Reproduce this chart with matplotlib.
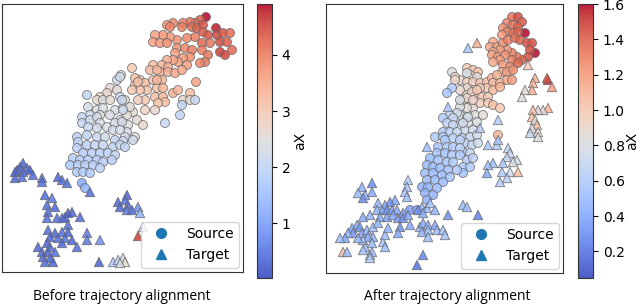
import numpy as np
import matplotlib.pyplot as plt
from matplotlib.lines import Line2D

# points: (x, y, aX), y grows downwards
left_source = [
    (206, 17, 4.9), (216, 28, 4.8), (200, 20, 4.3), (195, 23, 4.2), (190, 22, 4.1), (183, 23, 4.0),
    (182, 27, 4.0), (173, 23, 3.9), (167, 25, 3.8), (170, 27, 3.9), (192, 27, 4.2), (197, 28, 4.3),
    (203, 25, 4.4), (203, 32, 4.3), (208, 35, 4.4), (217, 35, 4.5), (223, 33, 4.4), (230, 33, 4.2),
    (220, 42, 4.5), (227, 42, 4.3), (232, 50, 4.2), (220, 52, 4.6), (225, 55, 4.5), (210, 43, 4.1),
    (202, 43, 4.2), (195, 37, 4.0), (187, 38, 3.9), (177, 40, 3.8), (170, 37, 3.7), (163, 35, 3.7),
    (155, 35, 3.6), (153, 42, 3.6), (160, 43, 3.7), (167, 43, 3.8), (177, 48, 3.8), (175, 53, 3.6),
    (185, 48, 3.9), (192, 50, 4.0), (202, 50, 4.0), (208, 55, 4.1), (205, 62, 4.0), (200, 63, 3.9),
    (190, 57, 3.8), (183, 58, 3.7), (178, 62, 3.6), (187, 65, 3.6), (173, 60, 3.5),
    (167, 60, 3.4), (162, 65, 3.3), (168, 67, 3.4), (153, 65, 3.2), (150, 70, 3.2), (160, 72, 3.3),
    (168, 72, 3.4), (175, 73, 3.5), (182, 70, 3.5), (132, 68, 3.0), (140, 80, 3.1), (135, 85, 3.1),
    (145, 83, 3.2), (153, 80, 3.2), (162, 80, 3.3), (157, 88, 3.2), (163, 88, 3.3), (147, 90, 3.1),
    (140, 90, 3.1), (132, 90, 3.0), (155, 97, 3.2), (163, 97, 3.3), (173, 93, 3.4), (178, 90, 3.3),
    (190, 93, 3.2), (196, 82, 3.6), (165, 102, 3.2), (158, 103, 3.1), (145, 100, 3.0), (138, 100, 2.9),
    (183, 100, 2.7), (190, 100, 2.6), (195, 100, 2.1), (182, 105, 2.0), (180, 115, 2.0), (165, 123, 2.1),
    (155, 110, 2.7), (145, 110, 2.8), (133, 112, 2.6), (127, 115, 2.5), (137, 120, 2.6), (143, 125, 2.7),
    (128, 125, 2.4), (120, 120, 2.3), (127, 132, 2.4), (135, 137, 2.5),
    (135, 78, 3.1), (138, 82, 3.1), (157, 80, 3.3), (157, 70, 3.3), (121, 75, 2.5), (117, 80, 2.2),
    (110, 88, 2.6), (117, 90, 2.6), (107, 93, 2.7), (100, 97, 2.8), (97, 100, 2.6), (103, 100, 2.5),
    (87, 95, 2.0), (88, 107, 2.3), (97, 110, 2.4), (103, 108, 2.4), (110, 100, 2.6), (120, 97, 2.1),
    (125, 100, 2.6), (115, 110, 2.4), (123, 108, 2.3), (130, 107, 2.5), (110, 115, 2.4), (100, 115, 2.5),
    (90, 115, 2.2), (82, 117, 2.0), (82, 123, 2.1), (90, 120, 2.2), (97, 117, 2.3), (100, 123, 2.3),
    (107, 127, 2.4), (115, 123, 2.3), (122, 122, 2.3), (113, 130, 2.2), (120, 130, 2.3), (97, 128, 2.2),
    (88, 127, 2.1), (77, 137, 1.9), (87, 135, 2.0), (97, 137, 2.1), (105, 137, 2.2), (125, 137, 2.3),
    (120, 77, 2.2), (122, 100, 2.1), (123, 110, 2.2),
    (115, 140, 2.0), (123, 141, 2.1), (133, 140, 2.2), (78, 142, 1.9), (77, 148, 1.9), (87, 145, 1.9),
    (95, 145, 2.0), (103, 145, 2.0), (113, 147, 2.0), (120, 145, 2.1), (125, 147, 2.0), (83, 153, 1.8),
    (92, 153, 1.9), (100, 153, 1.9), (108, 153, 1.9), (115, 155, 2.0), (73, 158, 1.8), (80, 160, 1.8),
    (88, 160, 1.8), (97, 160, 1.9), (103, 162, 1.9), (112, 160, 1.9), (70, 165, 1.7), (78, 165, 1.8),
    (85, 165, 1.8), (93, 165, 1.8), (100, 168, 1.9), (77, 172, 1.7), (83, 172, 1.8), (90, 173, 1.7),
    (82, 183, 1.2), (85, 188, 1.3),
]

left_target = [
    (23, 163, 0.3), (20, 167, 0.3), (27, 168, 0.4), (17, 170, 0.3), (15, 172, 0.3), (23, 172, 0.4),
    (30, 170, 0.3), (33, 175, 0.4), (22, 177, 0.4), (15, 178, 0.3), (42, 178, 0.4), (42, 182, 0.4),
    (58, 177, 0.3), (62, 180, 0.4), (67, 183, 0.4), (90, 192, 0.4),
    (45, 195, 0.4), (52, 198, 0.5), (47, 205, 0.4), (55, 207, 0.3), (48, 212, 0.4), (72, 212, 0.3),
    (68, 213, 0.2), (65, 217, 0.3), (62, 218, 0.4), (57, 218, 0.4), (80, 217, 0.4), (47, 218, 0.4),
    (68, 225, 0.4), (48, 230, 0.4), (55, 233, 0.3), (62, 232, 0.4), (68, 232, 0.3), (50, 237, 0.3),
    (58, 238, 0.4), (65, 238, 0.4), (72, 240, 0.3), (62, 243, 0.3), (47, 243, 0.3), (38, 247, 0.3),
    (50, 247, 0.4), (77, 247, 0.4), (87, 233, 0.5), (87, 240, 0.5), (100, 240, 0.8), (42, 252, 0.4),
    (48, 252, 0.3), (55, 252, 0.4), (43, 257, 0.3), (50, 258, 0.3), (45, 262, 0.4), (53, 262, 0.3),
    (118, 202, 0.3), (127, 195, 0.3), (125, 200, 0.4), (120, 207, 0.3), (128, 205, 0.4), (127, 210, 0.5),
    (132, 210, 0.4), (138, 207, 0.8), (140, 213, 1.3),
    (99, 262, 0.3), (113, 262, 1.7), (118, 260, 2.0), (123, 258, 2.4), (125, 262, 2.6), (120, 263, 2.3),
    (138, 236, 4.6), (143, 227, 2.0),
]

right_source = [
    (512, 17, 1.35), (518, 17, 1.45), (522, 22, 1.42), (507, 23, 1.3), (513, 25, 1.35), (518, 27, 1.4),
    (525, 33, 1.6), (503, 28, 1.25), (507, 32, 1.3), (513, 33, 1.35), (518, 32, 1.4), (502, 35, 1.2),
    (493, 42, 1.15), (490, 47, 1.15), (497, 47, 1.2), (503, 43, 1.25), (508, 40, 1.3), (515, 38, 1.35),
    (520, 40, 1.4), (527, 43, 1.45), (532, 43, 1.45), (535, 53, 1.6), (530, 50, 1.45), (528, 57, 1.45),
    (522, 60, 1.4), (517, 57, 1.35), (512, 53, 1.3), (507, 50, 1.25), (500, 50, 1.2), (493, 52, 1.15),
    (492, 55, 1.15), (498, 57, 1.2), (505, 55, 1.25), (512, 60, 1.3), (518, 63, 1.4), (500, 60, 1.2),
    (493, 62, 1.15), (503, 65, 1.2), (510, 67, 1.25), (502, 72, 1.15), (507, 72, 1.2), (513, 70, 1.25),
    (467, 68, 1.0), (473, 70, 1.0), (478, 72, 1.05), (470, 75, 0.9), (477, 77, 0.85), (460, 80, 0.9),
    (467, 82, 0.95), (473, 82, 0.95), (480, 83, 1.0), (487, 82, 1.05), (492, 78, 1.1), (497, 75, 1.1),
    (493, 83, 1.05), (500, 83, 1.1), (507, 80, 1.15), (512, 80, 1.2), (487, 88, 1.0), (493, 90, 1.05),
    (500, 87, 1.1), (480, 88, 0.95), (473, 90, 0.95), (467, 88, 0.9), (460, 90, 0.9), (467, 95, 0.9),
    (475, 97, 0.95), (482, 97, 1.0), (488, 97, 1.0), (463, 100, 0.85), (472, 102, 0.9), (480, 103, 0.95),
    (488, 103, 1.0), (493, 105, 1.05), (500, 108, 1.0), (473, 108, 0.85), (467, 108, 0.85), (460, 107, 0.8),
    (460, 115, 0.8), (467, 117, 0.8), (475, 115, 0.85), (483, 115, 0.85), (477, 122, 0.8), (468, 123, 0.8),
    (460, 125, 0.75), (465, 130, 0.75), (473, 130, 0.75),
    (452, 72, 0.8), (455, 77, 0.9), (455, 80, 0.9), (452, 88, 0.6), (447, 93, 0.55), (467, 73, 0.8),
    (472, 92, 0.95), (477, 90, 1.0), (467, 98, 0.9), (473, 100, 0.9), (460, 100, 0.8), (457, 113, 0.75),
    (450, 115, 0.7), (443, 118, 0.6), (453, 118, 0.7), (468, 117, 0.75), (447, 123, 0.65), (453, 125, 0.7),
    (463, 123, 0.75), (443, 132, 0.6), (450, 132, 0.65), (457, 132, 0.7), (435, 137, 0.6), (443, 137, 0.6),
    (453, 138, 0.65), (462, 138, 0.7), (470, 137, 0.7),
    (477, 135, 0.75), (465, 143, 0.65), (472, 145, 0.7), (478, 143, 0.75), (463, 152, 0.65), (470, 153, 0.7),
    (467, 160, 0.6), (473, 158, 0.65), (463, 167, 0.6), (470, 167, 0.6), (463, 173, 0.55), (498, 135, 1.1),
    (445, 140, 0.6), (460, 140, 0.65), (438, 147, 0.55), (447, 147, 0.6), (453, 147, 0.6), (460, 148, 0.65),
    (437, 153, 0.55), (445, 153, 0.55), (452, 155, 0.6), (460, 155, 0.6), (430, 158, 0.5), (438, 160, 0.55),
    (447, 162, 0.55), (453, 162, 0.6), (457, 170, 0.6), (427, 165, 0.5), (433, 167, 0.5), (440, 168, 0.5),
    (448, 170, 0.55), (425, 173, 0.5), (433, 173, 0.5), (442, 175, 0.5), (450, 177, 0.55), (427, 180, 0.5),
    (435, 180, 0.5), (443, 182, 0.5), (422, 187, 0.45), (428, 187, 0.45), (437, 188, 0.5), (425, 193, 0.45),
    (433, 195, 0.45), (427, 200, 0.45), (410, 210, 0.35), (417, 210, 0.4),
]

right_target = [
    (468, 48, 0.55), (477, 43, 1.15), (448, 107, 0.55), (528, 65, 1.0), (535, 78, 1.1), (533, 83, 1.1),
    (532, 90, 1.15), (525, 90, 0.85), (522, 97, 0.8), (548, 80, 1.55), (547, 78, 1.45), (552, 87, 1.2),
    (548, 108, 1.1), (543, 110, 0.85), (538, 110, 0.85), (533, 110, 1.05), (532, 117, 1.05), (535, 120, 0.85),
    (537, 125, 1.05), (532, 128, 0.8), (538, 132, 0.85), (530, 133, 0.7), (498, 120, 0.6), (480, 128, 0.6),
    (538, 137, 0.8),
    (488, 145, 0.55), (497, 145, 0.6), (498, 140, 0.55), (508, 148, 0.65), (510, 153, 0.7), (507, 157, 0.65),
    (517, 160, 0.75), (513, 162, 0.8), (503, 163, 0.55), (493, 163, 0.5), (488, 165, 0.5), (487, 173, 0.4),
    (502, 172, 0.6), (510, 172, 0.75), (518, 172, 1.05), (500, 182, 0.6), (507, 178, 0.65), (463, 205, 0.5),
    (467, 207, 0.5), (478, 215, 0.25),
    (427, 147, 0.5), (372, 183, 0.3), (362, 187, 0.45), (358, 193, 0.5), (365, 195, 0.45), (372, 192, 0.4),
    (363, 198, 0.3), (408, 180, 0.6), (407, 187, 0.55), (405, 192, 0.55), (407, 197, 0.5), (395, 200, 0.4),
    (390, 202, 0.3), (385, 205, 0.35), (378, 203, 0.45), (382, 210, 0.4), (387, 210, 0.3), (392, 210, 0.35),
    (397, 210, 0.4), (377, 210, 0.45), (370, 215, 0.45), (363, 217, 0.4), (380, 217, 0.4), (387, 217, 0.35),
    (393, 215, 0.4), (398, 218, 0.35), (403, 213, 0.35), (403, 218, 0.3), (408, 215, 0.4), (422, 207, 0.45),
    (418, 210, 0.3), (427, 208, 0.5), (430, 203, 0.55), (435, 210, 0.45), (423, 213, 0.4), (448, 215, 0.3),
    (357, 225, 0.4), (352, 228, 0.4), (360, 227, 0.35), (353, 233, 0.35), (348, 233, 0.45), (345, 238, 0.4),
    (340, 238, 0.5), (362, 233, 0.4), (367, 230, 0.45), (373, 227, 0.5), (378, 223, 0.45), (373, 237, 0.45),
    (368, 237, 0.4), (363, 240, 0.5), (358, 238, 0.45), (372, 243, 0.5), (365, 247, 0.5), (363, 250, 0.55),
    (372, 252, 0.5), (383, 242, 0.55), (385, 247, 0.5), (385, 235, 0.5), (388, 228, 0.45), (400, 227, 0.3),
    (410, 225, 0.4), (420, 227, 0.45), (423, 223, 0.4), (428, 225, 0.45), (435, 225, 0.4), (428, 230, 0.5),
    (422, 232, 0.45), (428, 237, 0.5), (437, 230, 0.5), (443, 230, 0.55), (445, 235, 0.55), (398, 233, 0.4),
    (343, 252, 1.05), (347, 252, 0.5), (370, 255, 0.55), (370, 258, 0.6), (423, 255, 0.25), (417, 265, 0.2),
]

titles = ["Before trajectory alignment", "After trajectory alignment"]
ranges = [(0.02, 4.91), (0.05, 1.6)]
cbar_ticks = [[1, 2, 3, 4], [0.2, 0.4, 0.6, 0.8, 1.0, 1.2, 1.4, 1.6]]

W, H = 640, 308
fig = plt.figure(figsize=(6.4, 3.08), dpi=100)

def box(x0, y0, x1, y1):
    return [x0 / W, 1 - y1 / H, (x1 - x0) / W, (y1 - y0) / H]

panels = [
    dict(ax=box(2, 4, 243, 272), cax=box(257, 4, 272, 278), lim=((2, 243), (272, 4)),
         src=left_source, tgt=left_target, tx=122, pad=2),
    dict(ax=box(326, 4, 563, 273), cax=box(578, 4, 593, 278), lim=((326, 563), (273, 4)),
         src=right_source, tgt=right_target, tx=447, pad=0),
]

for i, p in enumerate(panels):
    ax = fig.add_axes(p["ax"])
    vmin, vmax = ranges[i]
    sx, sy, sv = np.array(p["src"]).T
    tx_, ty_, tv = np.array(p["tgt"]).T
    sc = ax.scatter(sx, sy, c=sv, cmap="coolwarm", vmin=vmin, vmax=vmax, marker="o", s=42,
                    edgecolors="#666666", linewidths=0.6, alpha=0.85)
    ax.scatter(tx_, ty_, c=tv, cmap="coolwarm", vmin=vmin, vmax=vmax, marker="^", s=46,
               edgecolors="#666666", linewidths=0.6, alpha=0.85)
    ax.set_xlim(*p["lim"][0])
    ax.set_ylim(*p["lim"][1])
    ax.set_xticks([])
    ax.set_yticks([])
    for s in ax.spines.values():
        s.set_color("#333333")

    handles = [Line2D([], [], marker="o", ls="", color="C0", markersize=7, label="Source"),
               Line2D([], [], marker="^", ls="", color="C0", markersize=7, label="Target")]
    ax.legend(handles=handles, loc="lower right", fontsize=10, borderaxespad=0.3)

    cax = fig.add_axes(p["cax"])
    cb = fig.colorbar(sc, cax=cax)
    cb.solids.set_alpha(0.9)
    cb.set_ticks(cbar_ticks[i])
    cb.ax.tick_params(labelsize=10)
    cb.outline.set_edgecolor("#333333")
    cb.set_label("aX", fontsize=10, labelpad=p["pad"])

    fig.text(p["tx"] / W, 1 - 297 / H, titles[i], ha="center", va="center",
             fontsize=10, family="Open Sans")

fig.savefig("out.png", dpi=100)
